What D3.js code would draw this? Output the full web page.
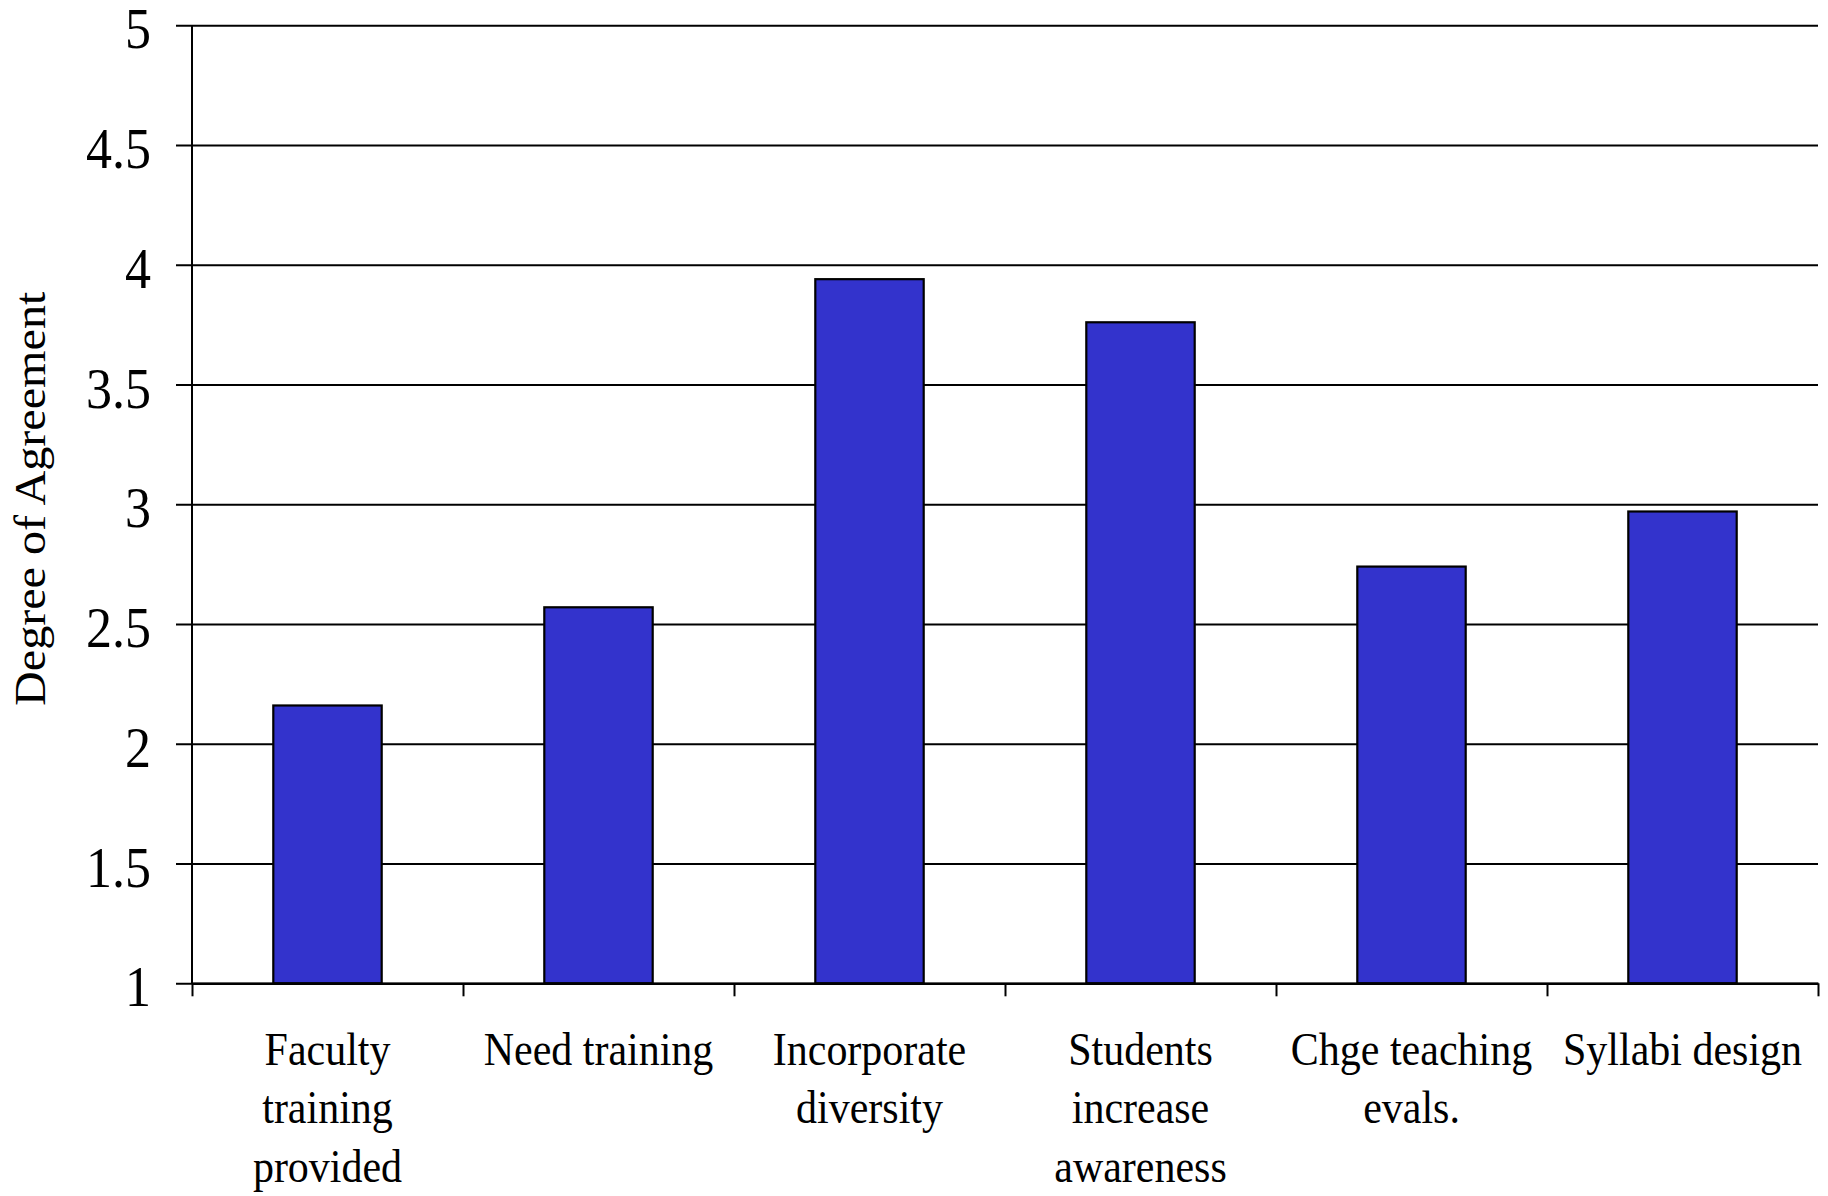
<!DOCTYPE html>
<html>
<head>
<meta charset="utf-8">
<script src="https://cdn.jsdelivr.net/npm/d3@7"></script>
<style>
  html, body { margin: 0; padding: 0; background: #fff; }
  svg { display: block; }
</style>
</head>
<body>
<svg id="chart" width="1828" height="1196"></svg>
<script>
const categories = ["Faculty training provided", "Need training", "Incorporate diversity",
  "Students increase awareness", "Chge teaching evals.", "Syllabi design"];
const values = [2.16, 2.57, 3.94, 3.76, 2.74, 2.97];
const yTicks = [1, 1.5, 2, 2.5, 3, 3.5, 4, 4.5, 5];
const yTitle = "Degree of Agreement";

(function () {
const svg = d3.select("#chart");
const pL = 192, pR = 1818, pT = 25.3, pB = 983.3;
const FONT = "'Liberation Serif', 'Times New Roman', serif";

const x = d3.scaleBand().domain(categories).range([pL, pR])
  .paddingInner(0.6).paddingOuter(0.3);
const y = d3.scaleLinear().domain([1, 5]).range([pB, pT]);

// gridlines + y tick labels
const yAxis = d3.axisLeft(y).tickValues(yTicks)
  .tickSizeInner(-(pR - pL + 16)).tickSizeOuter(0).tickPadding(25)
  .tickFormat(d => String(d));
const gy = svg.append("g").attr("transform", `translate(${pL - 16},0)`).call(yAxis);
gy.select(".domain").remove();
gy.selectAll(".tick line").attr("stroke", "#000").attr("stroke-width", 2);
gy.selectAll(".tick text")
  .attr("fill", "#000")
  .style("font-family", FONT).style("font-size", "52px")
  .attr("dy", "0.4em")
  .attr("transform", "scale(1,1.08)");

// bars
svg.append("g").selectAll("rect").data(values).join("rect")
  .attr("x", (d, i) => x(categories[i]))
  .attr("width", x.bandwidth())
  .attr("y", d => y(d))
  .attr("height", d => y(1) - y(d))
  .attr("fill", "#3333cc")
  .attr("stroke", "#000")
  .attr("stroke-width", 2.2);

// y axis line
svg.append("line").attr("x1", pL).attr("x2", pL).attr("y1", pT).attr("y2", pB)
  .attr("stroke", "#000").attr("stroke-width", 2);

// x axis: domain line + boundary ticks
const edges = d3.range(categories.length + 1);
const xEdge = d3.scalePoint().domain(edges).range([pL, pR]);
const gx = svg.append("g").attr("transform", `translate(0,${pB})`)
  .call(d3.axisBottom(xEdge).tickSizeInner(13).tickSizeOuter(0).tickFormat(""));
gx.select(".domain").attr("stroke", "#000").attr("stroke-width", 2.5);
gx.selectAll(".tick line").attr("stroke", "#000").attr("stroke-width", 2);

// category labels (wrapped)
const maxW = 255;
const lab = svg.append("g").selectAll("text").data(categories).join("text")
  .attr("transform", d => `translate(${x(d) + x.bandwidth() / 2},1065) scale(1,1.1)`)
  .attr("text-anchor", "middle")
  .style("font-family", FONT).style("font-size", "42px").attr("fill", "#000");
lab.each(function (d) {
  const t = d3.select(this);
  const words = d.split(" ");
  const lines = [];
  let cur = [];
  const probe = t.append("tspan");
  words.forEach(w => {
    probe.text(cur.concat([w]).join(" "));
    if (cur.length && probe.node().getComputedTextLength() > maxW) {
      lines.push(cur.join(" ")); cur = [w];
    } else cur.push(w);
  });
  lines.push(cur.join(" "));
  probe.remove();
  lines.forEach((ln, i) => {
    t.append("tspan").attr("x", 0).attr("y", i * 58.5 / 1.1).text(ln);
  });
});

// y title (top clipped as in the reference)
svg.append("defs").append("clipPath").attr("id", "titleClip")
  .append("rect").attr("x", 0).attr("y", 291).attr("width", 120).attr("height", 500);
svg.append("g").attr("clip-path", "url(#titleClip)")
  .append("text")
  .attr("transform", "translate(45,706) rotate(-90) scale(1.07,1)")
  .attr("text-anchor", "start")
  .style("font-family", FONT).style("font-size", "45px").attr("fill", "#000")
  .text(yTitle);
})();
</script>
</body>
</html>
